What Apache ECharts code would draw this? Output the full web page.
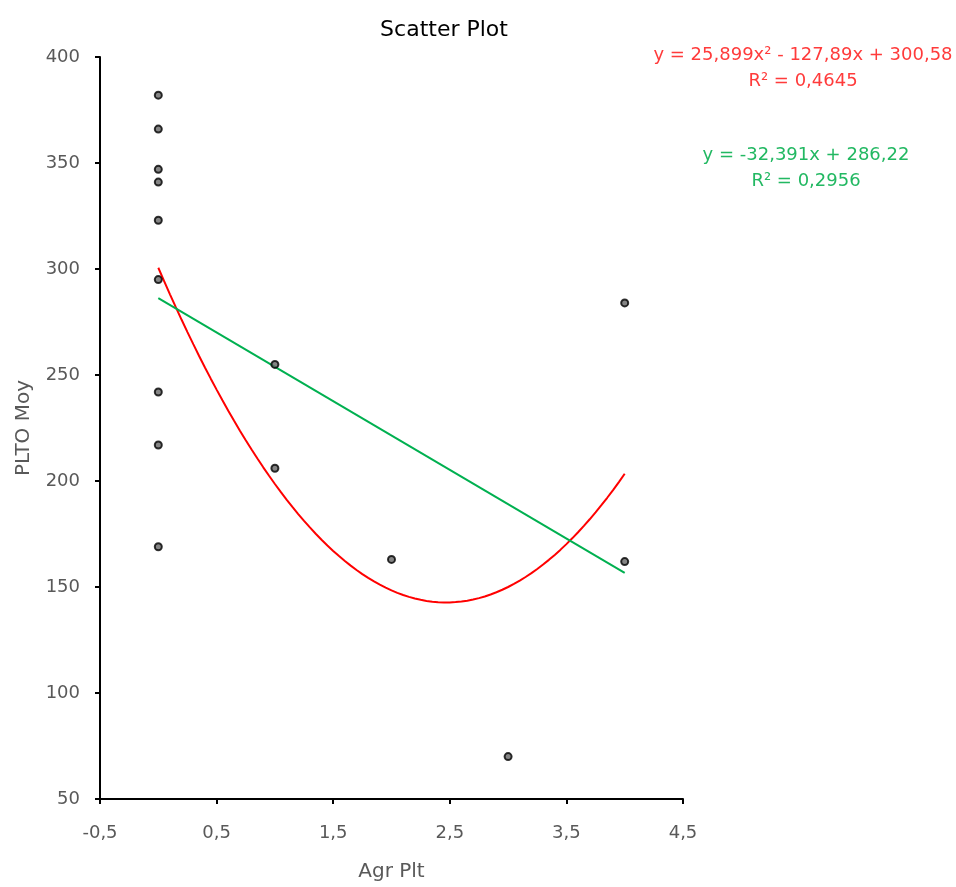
<!DOCTYPE html>
<html>
<head>
<meta charset="utf-8">
<script src="https://cdn.jsdelivr.net/npm/echarts@6/dist/echarts.min.js"></script>
<style>
  html, body { margin: 0; padding: 0; background: #fff; }
  #chart { width: 956px; height: 887px; }
</style>
</head>
<body>
<div id="chart"></div>
<script>
// Observations: Agr Plt (x) against PLTO Moy (y)
const agrPlt = [0, 0, 0, 0, 0, 0, 0, 0, 0, 1, 1, 2, 3, 4, 4];
const pltoMoy = [382, 366, 347, 341, 323, 295, 242, 217, 169, 255, 206, 163, 70, 284, 162];

// Axis ticks
const xTicks = [-0.5, 0.5, 1.5, 2.5, 3.5, 4.5];
const yTicks = [50, 100, 150, 200, 250, 300, 350, 400];

// Trendline coefficients as printed on the chart
const polyCoef = [300.58, -127.89, 25.899];   // c0 + c1 x + c2 x²
const polyR2 = 0.4645;
const linCoef = [286.22, -32.391];            // c0 + c1 x
const linR2 = 0.2956;

// Trendlines span the observed x range
const trendX = [];
for (let i = 0; i <= 80; i++) trendX.push(i * 0.05);

const polyLine = trendX.map(x => [x, polyCoef[0] + polyCoef[1] * x + polyCoef[2] * x * x]);
const linLine = [0, 4].map(x => [x, linCoef[0] + linCoef[1] * x]);

const fmt = (v, d) => v.toFixed(d).replace('.', ',');
const fmtNum = v => String(v).replace('.', ',');

const polyText = 'y = ' + fmtNum(polyCoef[2]) + 'x² - ' + fmtNum(-polyCoef[1]) + 'x + ' + fmtNum(polyCoef[0]);
const polyR2Text = 'R² = ' + fmt(polyR2, 4);
const linText = 'y = ' + fmtNum(linCoef[1]) + 'x + ' + fmtNum(linCoef[0]);
const linR2Text = 'R² = ' + fmt(linR2, 4);

const FONT = '"DejaVu Sans", sans-serif';
const labelGrey = '#595959';
const polyColor = '#ff0000';
const linColor = '#00b050';

const chart = echarts.init(document.getElementById('chart'), null, { renderer: 'canvas' });
chart.setOption({
  animation: false,
  backgroundColor: '#fff',
  title: {
    text: 'Scatter Plot',
    left: 439, top: 14, textAlign: 'center',
    textStyle: { fontFamily: FONT, fontSize: 22, fontWeight: 'normal', color: '#000' }
  },
  grid: { left: 100, right: 273, top: 57, bottom: 83, containLabel: false },
  xAxis: {
    type: 'value', min: -0.5, max: 4.5,
    name: 'Agr Plt', nameLocation: 'middle', nameGap: 63,
    nameTextStyle: { fontFamily: FONT, fontSize: 20, color: labelGrey },
    axisLine: { show: true, onZero: false, lineStyle: { color: '#000', width: 2 } },
    axisTick: { show: true, customValues: xTicks, length: 5, lineStyle: { color: '#000', width: 2 } },
    axisLabel: {
      customValues: xTicks, margin: 25,
      fontFamily: FONT, fontSize: 18, color: labelGrey,
      formatter: v => fmtNum(v)
    },
    splitLine: { show: false }
  },
  yAxis: {
    type: 'value', min: 50, max: 400, interval: 50,
    name: 'PLTO Moy', nameLocation: 'middle', nameGap: 66, nameRotate: 90,
    nameTextStyle: { fontFamily: FONT, fontSize: 20, color: labelGrey },
    axisLine: { show: true, onZero: false, lineStyle: { color: '#000', width: 2 } },
    axisTick: { show: true, length: 5, lineStyle: { color: '#000', width: 2 } },
    axisLabel: {
      customValues: yTicks, margin: 20,
      fontFamily: FONT, fontSize: 18, color: labelGrey
    },
    splitLine: { show: false }
  },
  series: [
    {
      type: 'line', data: polyLine, showSymbol: false, smooth: false,
      lineStyle: { color: polyColor, width: 2 }, z: 2
    },
    {
      type: 'line', data: linLine, showSymbol: false,
      lineStyle: { color: linColor, width: 2 }, z: 2
    },
    {
      type: 'scatter',
      data: agrPlt.map((x, i) => [x, pltoMoy[i]]),
      symbol: 'circle', symbolSize: 7,
      itemStyle: { color: '#666', borderColor: '#000', borderWidth: 2 },
      z: 3
    }
  ],
  graphic: [
    {
      type: 'text', x: 803, y: 46,
      style: { text: polyText, fill: '#ff3b3b', font: '18px ' + FONT, textAlign: 'center' }
    },
    {
      type: 'text', x: 803, y: 72,
      style: { text: polyR2Text, fill: '#ff3b3b', font: '18px ' + FONT, textAlign: 'center' }
    },
    {
      type: 'text', x: 806, y: 146,
      style: { text: linText, fill: '#22b862', font: '18px ' + FONT, textAlign: 'center' }
    },
    {
      type: 'text', x: 806, y: 172,
      style: { text: linR2Text, fill: '#22b862', font: '18px ' + FONT, textAlign: 'center' }
    }
  ]
});
</script>
</body>
</html>
